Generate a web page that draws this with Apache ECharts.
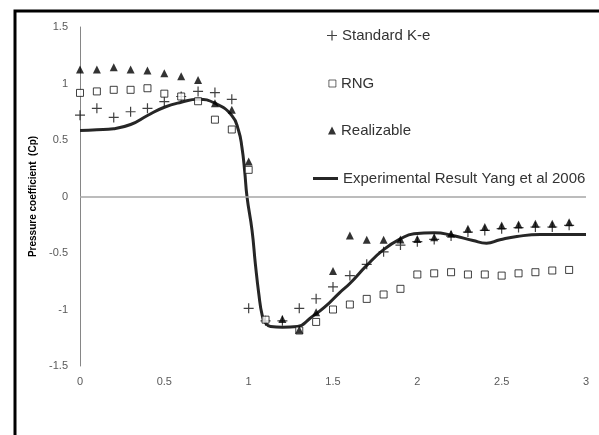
<!DOCTYPE html>
<html>
<head>
<meta charset="utf-8">
<script src="https://cdn.jsdelivr.net/npm/echarts@6/dist/echarts.min.js"></script>
<style>
  html, body { margin: 0; padding: 0; background: #fff; }
  #main { width: 599px; height: 435px; }
</style>
</head>
<body>
<div id="main"></div>
<script>
// x positions of the simulated points
const xs = [0, 0.1, 0.2, 0.3, 0.4, 0.5, 0.6, 0.7, 0.8, 0.9,
  1.0, 1.1, 1.2, 1.3, 1.4, 1.5, 1.6, 1.7, 1.8, 1.9,
  2.0, 2.1, 2.2, 2.3, 2.4, 2.5, 2.6, 2.7, 2.8, 2.9]

const standardKe = [0.72, 0.78, 0.70, 0.75, 0.78, 0.84, 0.885, 0.93, 0.92, 0.86,
  -0.99, -1.1, -1.1, -0.99, -0.905, -0.80, -0.70, -0.60, -0.49, -0.43,
  -0.40, -0.38, -0.35, -0.315, -0.30, -0.285, -0.275, -0.27, -0.27, -0.255]

const rng = [0.917, 0.93, 0.944, 0.944, 0.958, 0.91, 0.885, 0.843, 0.68, 0.593,
  0.236, -1.09, null, -1.186, -1.11, -1.0, -0.956, -0.906, -0.867, -0.817,
  -0.69, -0.68, -0.67, -0.69, -0.69, -0.70, -0.68, -0.67, -0.655, -0.65]

const realizable = [1.124, 1.124, 1.144, 1.124, 1.115, 1.09, 1.065, 1.03, 0.826, 0.767,
  0.31, null, -1.085, -1.18, -1.024, -0.66, -0.345, -0.383, -0.383, -0.38,
  -0.375, -0.36, -0.33, -0.286, -0.27, -0.257, -0.248, -0.242, -0.242, -0.227]

// experimental curve (Yang et al 2006)
const expX = [0, 0.1, 0.2, 0.3, 0.4, 0.5, 0.6, 0.7, 0.8, 0.9, 0.94, 0.96, 0.976, 0.99,
  1.02, 1.04, 1.06, 1.08, 1.1, 1.13, 1.2, 1.29, 1.37, 1.45, 1.54, 1.6, 1.7, 1.8, 1.9,
  1.98, 2.1, 2.21, 2.33, 2.41, 2.49, 2.59, 2.73, 2.9, 3.0]
const expY = [0.584, 0.59, 0.60, 0.637, 0.717, 0.79, 0.834, 0.86, 0.826, 0.717, 0.584, 0.436, 0.23, 0,
  -0.30, -0.60, -0.86, -1.05, -1.12, -1.15, -1.157, -1.15, -1.07, -0.98, -0.85, -0.77, -0.61, -0.47, -0.375,
  -0.33, -0.32, -0.345, -0.39, -0.413, -0.383, -0.354, -0.336, -0.336, -0.336]

const xTicks = ['0', '0.5', '1', '1.5', '2', '2.5', '3']
const yTicks = ['-1.5', '-1', '-0.5', '0', '0.5', '1', '1.5']

const names = ['Standard K-e', 'RNG', 'Realizable', 'Experimental Result Yang et al 2006']

function pairs (ys) {
  return xs.map((x, i) => [x, ys[i]]).filter(p => p[1] !== null)
}

const plusPath = 'path://M4.4,0H5.6V4.4H10V5.6H5.6V10H4.4V5.6H0V4.4H4.4Z'
const font = 'Liberation Sans, Arial, sans-serif'
const legendText = { fontFamily: font, fontSize: 15, color: '#333', lineHeight: 14 }

// one legend per entry so each icon keeps its own size
function legendItem (name, left, top, w, h, extra) {
  return Object.assign({
    data: [name],
    left: left,
    top: top,
    padding: 0,
    itemWidth: w,
    itemHeight: h,
    textStyle: legendText
  }, extra || {})
}

const chart = echarts.init(document.getElementById('main'))

const option = {
  animation: false,
  backgroundColor: '#fff',
  graphic: [
    {
      type: 'rect',
      left: 12.5,
      top: 8.5,
      shape: { width: 640, height: 460 },
      style: { fill: null, stroke: '#000', lineWidth: 3 },
      z: 100
    }
  ],
  grid: { left: 80, right: 13, top: 27, bottom: 69 },
  legend: [
    legendItem(names[0], 327, 28, 10, 10),
    legendItem(names[1], 328.5, 76, 7, 7, { itemStyle: { borderWidth: 0.8 } }),
    legendItem(names[2], 328, 123, 8, 8),
    legendItem(names[3], 313, 171, 25, 3, { data: [{ name: names[3], icon: 'rect' }] })
  ],
  xAxis: {
    type: 'value',
    min: 0,
    max: 3,
    interval: 0.5,
    axisLine: { show: false },
    axisTick: { show: false },
    splitLine: { show: false },
    axisLabel: {
      margin: 10,
      fontFamily: font,
      fontSize: 11,
      color: '#595959',
      formatter: v => xTicks[Math.round(v / 0.5)]
    }
  },
  yAxis: {
    type: 'value',
    min: -1.5,
    max: 1.5,
    interval: 0.5,
    name: 'Pressure coefficient  (Cp)',
    nameLocation: 'middle',
    nameGap: 30,
    nameTextStyle: { fontFamily: font, fontSize: 10, fontWeight: 'bold', color: '#000' },
    axisLine: { show: true, onZero: false, lineStyle: { color: '#868686', width: 1 } },
    axisTick: { show: false },
    splitLine: { show: false },
    axisLabel: {
      margin: 12,
      fontFamily: font,
      fontSize: 11,
      color: '#595959',
      formatter: v => yTicks[Math.round((v + 1.5) / 0.5)]
    }
  },
  series: [
    {
      name: names[0],
      type: 'scatter',
      symbol: plusPath,
      symbolSize: 10,
      itemStyle: { color: '#111' },
      data: pairs(standardKe)
    },
    {
      name: names[1],
      type: 'scatter',
      symbol: 'rect',
      symbolSize: 7,
      itemStyle: { color: '#fff', borderColor: '#111', borderWidth: 1 },
      data: pairs(rng)
    },
    {
      name: names[2],
      type: 'scatter',
      symbol: 'triangle',
      symbolSize: 8,
      itemStyle: { color: '#000' },
      data: pairs(realizable)
    },
    {
      name: names[3],
      type: 'line',
      symbol: 'none',
      smooth: 0.5,
      lineStyle: { color: '#262626', width: 3 },
      itemStyle: { color: '#262626' },
      data: expX.map((x, i) => [x, expY[i]]),
      markLine: {
        silent: true,
        symbol: 'none',
        label: { show: false },
        lineStyle: { color: '#a6a6a6', width: 1.5, type: 'solid' },
        data: [{ yAxis: 0 }]
      },
      z: 1
    }
  ]
}

chart.setOption(option)
</script>
</body>
</html>
